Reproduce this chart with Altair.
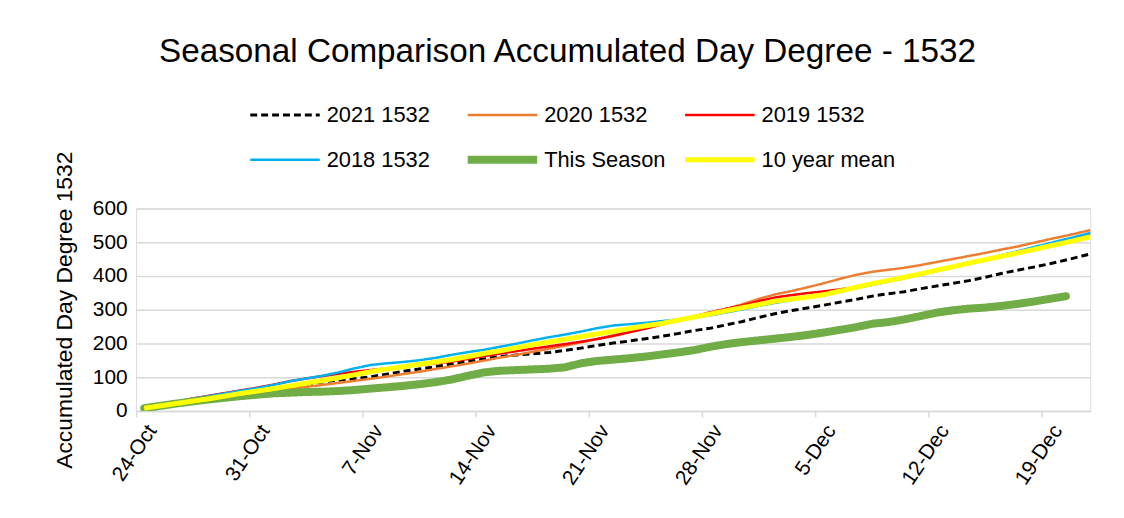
import json
import altair as alt
import pandas as pd

series_names = ["2021 1532", "2020 1532", "2019 1532", "2018 1532", "This Season", "10 year mean"]
series_colors = ["#000000", "#ED7D31", "#FF0000", "#00B0F0", "#70AD47", "#FFFF00"]
series_widths = [3, 2.5, 2.5, 2.5, 8, 5]
series_dash = [[7, 4], [1, 0], [1, 0], [1, 0], [1, 0], [1, 0]]

tick_labels = ["24-Oct", "31-Oct", "7-Nov", "14-Nov", "21-Nov", "28-Nov", "5-Dec", "12-Dec", "19-Dec"]

# accumulated day degrees, one value per day starting 24-Oct
y2021 = [8, 15, 22, 29, 36, 43, 50, 56, 63, 71, 79, 86, 91, 96, 101, 109, 117, 124, 131, 139,
         147, 154, 161, 166, 169, 173, 179, 186, 194, 201, 207, 214, 221, 229, 238, 245, 255, 265, 277, 288,
         297, 305, 313, 322, 330, 340, 347, 353, 362, 370, 378, 386, 396, 407, 417, 426, 436, 447, 459, 471]
y2020 = [8, 14, 20, 26, 32, 38, 44, 50, 57, 65, 71, 77, 83, 89, 95, 102, 109, 116, 124, 132,
         140, 149, 158, 166, 175, 184, 193, 203, 213, 224, 234, 245, 256, 267, 278, 290, 302, 316, 332, 345,
         355, 366, 378, 391, 403, 412, 418, 424, 432, 441, 450, 459, 468, 478, 487, 498, 509, 519, 530, 541]
y2019 = [8, 17, 27, 37, 45, 53, 61, 69, 78, 88, 96, 103, 110, 116, 121, 126, 131, 136, 141, 146,
         154, 162, 170, 177, 184, 191, 198, 205, 213, 222, 233, 244, 256, 268, 280, 292, 303, 313, 325, 336,
         343, 349, 354, 360, 367, 376, 386, 396, 406, 416, 427, 438, 449, 460, 471, 482, 494, 506, 518, 530]
y2018 = [8, 17, 27, 36, 44, 52, 60, 68, 77, 88, 96, 104, 114, 126, 136, 141, 145, 150, 157, 166,
         174, 181, 190, 199, 209, 218, 226, 235, 245, 253, 257, 261, 266, 271, 277, 283, 292, 301, 311, 320,
         328, 337, 345, 354, 364, 373, 383, 393, 403, 414, 426, 438, 449, 461, 473, 485, 497, 509, 521, 533]
this_season = [8, 15, 22, 28, 34, 39, 44, 48, 52, 54, 56, 57, 59, 62, 66, 70, 74, 79, 85, 93,
               104, 114, 119, 121, 123, 125, 129, 141, 148, 152, 156, 161, 167, 173, 180, 190, 198, 204, 209, 214,
               219, 225, 232, 240, 248, 258, 263, 271, 281, 291, 298, 303, 306, 311, 317, 324, 332, 340]
ten_year_mean = [8, 15, 22, 29, 36, 44, 52, 59, 66, 74, 82, 90, 98, 107, 116, 124, 131, 138, 145, 152,
                 161, 170, 178, 187, 196, 204, 212, 220, 228, 236, 244, 252, 259, 269, 278, 287, 297, 306, 315, 325,
                 331, 337, 344, 355, 366, 377, 386, 396, 406, 417, 427, 438, 448, 458, 468, 478, 489, 499, 510, 521]

all_values = [y2021, y2020, y2019, y2018, this_season, ten_year_mean]
frames = []
for name, vals in zip(series_names, all_values):
    frames.append(pd.DataFrame({"series": name, "day": list(range(len(vals))), "value": vals}))
df = pd.concat(frames, ignore_index=True)

FONT = "Liberation Sans"
label_expr = json.dumps(tick_labels) + "[round((datum.value + 0.5) / 7)]"

color_scale = alt.Scale(type="ordinal", domain=series_names, range=series_colors)
width_scale = alt.Scale(type="ordinal", domain=series_names, range=series_widths)
dash_scale = alt.Scale(type="ordinal", domain=series_names, range=series_dash)

legend = alt.Legend(
    title=None, orient="none", legendX=111, legendY=-107, direction="horizontal", columns=3,
    gridAlign="all", columnPadding=3, rowPadding=19, clipHeight=26, symbolType="stroke", symbolSize=4900,
    labelFont=FONT, labelFontSize=22, labelColor="#000000", labelOffset=3, labelLimit=300, padding=0,
)

base = alt.Chart(df).mark_line(clip=True, strokeCap="butt", strokeJoin="round").encode(
    x=alt.X("day:Q", scale=alt.Scale(domain=[-0.5, 58.5], nice=False, zero=False),
            axis=alt.Axis(title=None, values=[-0.5 + 7 * i for i in range(len(tick_labels))],
                          labelExpr=label_expr, labelAngle=304, labelAlign="right", labelBaseline="middle",
                          labelFont=FONT, labelFontSize=21, labelColor="#000000", labelOffset=16, labelPadding=10,
                          grid=False, domainColor="#D9D9D9", domainWidth=1.5,
                          ticks=True, tickColor="#D9D9D9", tickWidth=1.5, tickSize=6, labelOverlap=False)),
    y=alt.Y("value:Q", scale=alt.Scale(domain=[0, 600], nice=False),
            axis=alt.Axis(title="Accumulated Day Degree 1532", values=[0, 100, 200, 300, 400, 500, 600],
                          labelFont=FONT, labelFontSize=21, labelColor="#000000", labelPadding=9,
                          titleFont=FONT, titleFontSize=23, titleFontWeight="normal", titleColor="#000000",
                          titlePadding=16, grid=True, gridColor="#D9D9D9", gridWidth=1.5,
                          domain=False, ticks=False)),
    color=alt.Color("series:N", scale=color_scale, legend=legend),
    strokeWidth=alt.StrokeWidth("series:N", scale=width_scale, legend=legend),
    strokeDash=alt.StrokeDash("series:N", scale=dash_scale, legend=legend),
)

layers = []
for name in series_names:
    layer = base.transform_filter(alt.datum.series == name)
    if name == "This Season":
        layer = layer.mark_line(clip=True, strokeCap="round", strokeJoin="round")
    layers.append(layer)

chart = alt.layer(*layers).properties(
    width=961, height=204,
    title=alt.TitleParams("Seasonal Comparison Accumulated Day Degree - 1532", font=FONT, fontSize=33.5,
                          fontWeight="normal", color="#000000", anchor="middle", dx=-46, offset=33),
    autosize=alt.AutoSizeParams(type="none"),
    padding={"left": 129, "top": 200, "right": 26, "bottom": 106},
).configure_view(stroke=None).configure(background="#FFFFFF")

chart.save("out.html", embed_options={"renderer": "svg", "actions": False})
